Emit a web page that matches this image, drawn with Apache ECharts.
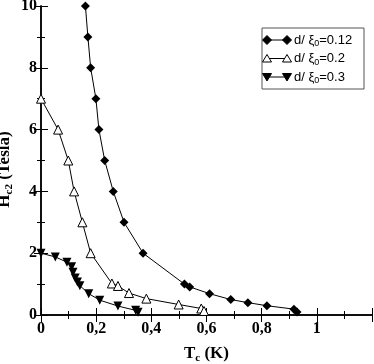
<!DOCTYPE html>
<html><head><meta charset="utf-8">
<script src="https://cdn.jsdelivr.net/npm/echarts@6/dist/echarts.min.js"></script>
<style>html,body{margin:0;padding:0;background:#fff}#c{width:374px;height:364px}</style>
</head><body><div id="c"></div>
<script>
// Data
var seriesNames = ['d/ ξ0=0.12', 'd/ ξ0=0.2', 'd/ ξ0=0.3'];
var tc012 = [0.161,0.170,0.180,0.199,0.210,0.231,0.262,0.301,0.370,0.520,0.539,0.611,0.688,0.750,0.819,0.917,0.928];
var h012  = [10,9,8,7,6,5,4,3,2,1.0,0.91,0.69,0.5,0.4,0.3,0.19,0.1];
var tc02  = [0,0.062,0.099,0.120,0.150,0.180,0.257,0.279,0.319,0.382,0.499,0.581,0.591];
var h02   = [7,6,5,4,3,2,1.02,0.94,0.71,0.53,0.34,0.21,0.13];
var tc03  = [0,0.052,0.094,0.111,0.116,0.124,0.132,0.141,0.173,0.213,0.279,0.343,0.352];
var h03   = [2,1.88,1.71,1.56,1.38,1.2,1.07,0.95,0.69,0.48,0.29,0.15,0.09];
var xTickLabels = {0:'0',0.2:'0,2',0.4:'0,4',0.6:'0,6',0.8:'0,8',1:'1'};

function pairs(xs, ys){ return xs.map(function(x,i){return [x, ys[i]];}); }

var serif = 'Liberation Serif';
var chart = echarts.init(document.getElementById('c'));
var axisCommon = {
  axisLine:{lineStyle:{color:'#000',width:1.5}},
  axisTick:{inside:true,length:7,lineStyle:{color:'#000',width:1}},
  minorTick:{show:true,splitNumber:2,length:4,lineStyle:{color:'#000',width:1}},
  splitLine:{show:false}
};
function ax(extra){ return Object.assign({}, JSON.parse(JSON.stringify(axisCommon)), extra); }

var lbl = {fontFamily:serif,fontWeight:'bold',fontSize:16,color:'#000'};
var nameRich = {b:{fontFamily:serif,fontWeight:'bold',fontSize:17,color:'#000'},s:{fontFamily:serif,fontWeight:'bold',fontSize:11,color:'#000',padding:[10,0,0,0]}};

chart.setOption({
  animation:false,
  grid:{left:41,top:6,right:2,bottom:49,containLabel:false,outerBoundsMode:'none'},
  xAxis:[
    ax({type:'value',min:0,max:1.2,interval:0.2,position:'bottom',
      axisLabel:Object.assign({margin:6,formatter:function(v){var k=Math.round(v*10)/10;return xTickLabels[k]!==undefined?xTickLabels[k]:'';}},lbl),
      name:'{b|T}{s|c}{b| (K)}',nameLocation:'middle',nameGap:28,
      nameTextStyle:{rich:nameRich}
    }),
    ax({type:'value',min:0,max:1.2,interval:0.2,position:'top',axisLabel:{show:false}})
  ],
  yAxis:[
    ax({type:'value',min:0,max:10,interval:2,position:'left',
      axisLabel:Object.assign({margin:4},lbl),
      name:'{b|H}{s|c2}{b| (Tesla)}',nameLocation:'middle',nameGap:26,nameMoveOverlap:false,
      nameTextStyle:{rich:nameRich,padding:[0,18,0,0]}
    }),
    ax({type:'value',min:0,max:10,interval:2,position:'right',axisLabel:{show:false}})
  ],
  series:[
    {name:seriesNames[0],type:'line',data:pairs(tc012,h012),symbol:'diamond',symbolSize:9,clip:false,
      lineStyle:{color:'#000',width:1},itemStyle:{color:'#000'}},
    {name:seriesNames[1],type:'line',data:pairs(tc02,h02),symbol:'triangle',symbolSize:9,clip:false,
      lineStyle:{color:'#000',width:1},itemStyle:{color:'#fff',borderColor:'#000',borderWidth:1}},
    {name:seriesNames[2],type:'line',data:pairs(tc03,h03),symbol:'triangle',symbolRotate:180,symbolSize:9,clip:false,
      lineStyle:{color:'#000',width:1},itemStyle:{color:'#000'}}
  ],
  graphic:(function(){
    var g=[];
    g.push({type:'rect',shape:{x:262,y:28,width:102,height:61},style:{fill:'#fff',stroke:'#555',lineWidth:1},z:10});
    var rows=[40,58.5,77];
    var x1=267,x2=287;
    var rich={t:{fontFamily:'Liberation Sans',fontSize:13,color:'#000'},s:{fontFamily:'Liberation Sans',fontSize:9,color:'#000',padding:[8,0,0,0]}};
    var texts=['{t|d/ ξ}{s|0}{t|=0.12}','{t|d/ ξ}{s|0}{t|=0.2}','{t|d/ ξ}{s|0}{t|=0.3}'];
    rows.forEach(function(y,i){
      g.push({type:'line',shape:{x1:x1,y1:y,x2:x2,y2:y},style:{stroke:'#000',lineWidth:1},z:11});
      [x1,x2].forEach(function(x){
        var pts;
        if(i===0) pts=[[x,y-4.5],[x+4.5,y],[x,y+4.5],[x-4.5,y]];
        else if(i===1) pts=[[x,y-4],[x+4.5,y+3.5],[x-4.5,y+3.5]];
        else pts=[[x,y+4],[x+4.5,y-3.5],[x-4.5,y-3.5]];
        g.push({type:'polygon',shape:{points:pts},style:{fill:i===1?'#fff':'#000',stroke:'#000',lineWidth:1},z:12});
      });
      g.push({type:'text',x:294,y:y,style:{text:texts[i],rich:rich,verticalAlign:'middle',align:'left'},z:12});
    });
    return g;
  })()
});
</script></body></html>
